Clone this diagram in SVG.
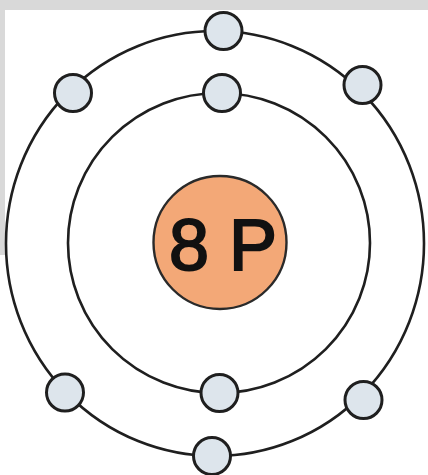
<svg xmlns="http://www.w3.org/2000/svg" width="428" height="475" viewBox="0 0 428 475">
<style>
.ring{fill:none;stroke:#1f1f1f;stroke-width:2.6}
.e{fill:#dde5ec;stroke:#1f1f1f;stroke-width:3}
.nuc{fill:#f3a877;stroke:#2a2a2a;stroke-width:2.4}
.lbl{font-family:"Liberation Sans",Arial,sans-serif;font-size:72px;fill:#111;stroke:#111;stroke-width:2}
</style>
<rect x="0" y="0" width="428" height="475" fill="#ffffff"/>
<rect x="0" y="0" width="428" height="10" fill="#d9d9d9"/>
<rect x="0" y="0" width="5" height="255" fill="#d9d9d9"/>
<g id="connectors">
<ellipse id="outer-shell" class="ring" cx="215" cy="243.5" rx="209" ry="212.5"/>
<ellipse id="inner-shell" class="ring" cx="219" cy="243" rx="151" ry="150"/>
</g>
<g id="nucleus">
<circle class="nuc" cx="220" cy="242.5" r="66.5"/>
<text class="lbl" x="169" y="270">8 P</text>
</g>
<g id="inner-e1"><circle class="e" cx="222" cy="93" r="18.5"/></g>
<g id="inner-e2"><circle class="e" cx="219.5" cy="393" r="18.5"/></g>
<g id="outer-e1"><circle class="e" cx="223.5" cy="31" r="18.5"/></g>
<g id="outer-e2"><circle class="e" cx="362.5" cy="85" r="18.5"/></g>
<g id="outer-e3"><circle class="e" cx="73" cy="93" r="18.5"/></g>
<g id="outer-e4"><circle class="e" cx="65" cy="392.5" r="18.5"/></g>
<g id="outer-e5"><circle class="e" cx="363.5" cy="400" r="18.5"/></g>
<g id="outer-e6"><circle class="e" cx="212" cy="456" r="18.5"/></g>
</svg>
